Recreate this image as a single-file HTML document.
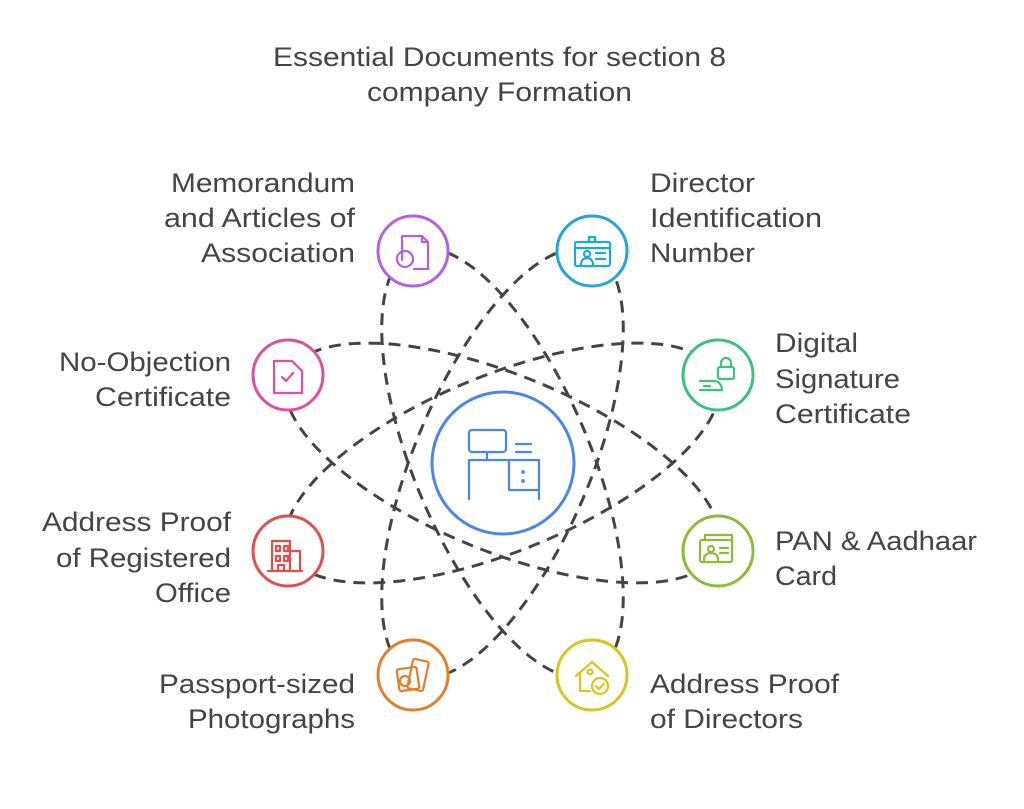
<!DOCTYPE html>
<html><head><meta charset="utf-8"><style>
html,body{margin:0;padding:0;background:#fff;}
svg{display:block;}
text{font-family:"Liberation Sans",sans-serif;font-size:27px;fill:#444;}
</style></head><body>
<svg width="1024" height="809" viewBox="0 0 1024 809" xmlns="http://www.w3.org/2000/svg">
<g fill="none" stroke="#444" stroke-width="3" stroke-dasharray="12 8">
<ellipse cx="502.5" cy="463" rx="230" ry="88" transform="rotate(67.1 502.5 463)"/>
<ellipse cx="502.5" cy="463" rx="230" ry="88" transform="rotate(-67.1 502.5 463)"/>
<ellipse cx="502.5" cy="463" rx="232" ry="88" transform="rotate(22.3 502.5 463)"/>
<ellipse cx="502.5" cy="463" rx="232" ry="88" transform="rotate(-22.3 502.5 463)"/>
</g>
<g stroke-width="3" fill="#fff">
<circle cx="503" cy="463" r="71" stroke="#4a86e8"/>
<circle cx="413" cy="251" r="35" stroke="#b65fe3"/>
<circle cx="592" cy="251" r="35" stroke="#1fa7da"/>
<circle cx="288" cy="375" r="35" stroke="#df4fa0"/>
<circle cx="718" cy="375" r="35" stroke="#3cc27c"/>
<circle cx="288" cy="551" r="35" stroke="#e24d4d"/>
<circle cx="718" cy="551" r="35" stroke="#8dbb38"/>
<circle cx="413" cy="675" r="35" stroke="#e27f2d"/>
<circle cx="592" cy="675" r="35" stroke="#d9c51c"/>
</g>
<!-- icons -->
<g fill="none" stroke-width="2.2" stroke-linejoin="round" stroke-linecap="round">
<g stroke="#4a86e8"><rect x="469" y="430" width="37" height="22" rx="3"/><path d="M487 452v8M469 499v-39h70v39M509 460v30h30M516 444h15M516 452h15"/><circle cx="523" cy="472" r="0.8"/><circle cx="523" cy="481" r="0.8"/></g>
<g stroke="#b65fe3"><path d="M402 260v-24h20l6 6v27h-14M422 236v6h6"/><circle cx="405" cy="259" r="8"/></g>
<g stroke="#1fa7da"><rect x="575" y="242" width="35" height="24" rx="2"/><path d="M575 248h35M589 242v-5h6v5M581 265c0-5 3-7 6-7s6 2 6 7M596 253h9M596 259h9"/><circle cx="587" cy="254" r="3"/></g>
<g stroke="#df4fa0"><path d="M274 361h18l10 10v22h-28z"/><path d="M282 377l4 4 7-8"/></g>
<g stroke="#3cc27c"><rect x="718" y="367" width="16" height="12" rx="2"/><path d="M721 367v-4a5 5 0 0 1 10 0v4M700 381h14c6 0 8 6 8 9h-22M704 386h6"/></g>
<g stroke="#e24d4d"><path d="M272 571v-30h18v30M290 551h10v20M268 571h34M284 571v-6h-6v6"/><path d="M276 546h4v5h-4zM284 546h4v5h-4zM276 556h4v5h-4zM284 556h4v5h-4z"/></g>
<g stroke="#8dbb38"><rect x="700" y="540" width="32" height="22" rx="2"/><path d="M705 540v-5h27v5"/><circle cx="711" cy="549" r="3"/><path d="M704 560c0-5 3-7 7-7s7 2 7 7M720 548h8M720 553h8"/></g>
<g stroke="#e27f2d"><rect x="398" y="668" width="20" height="22" rx="2" transform="rotate(-8 408 679)"/><rect x="410" y="660" width="16" height="30" rx="2" transform="rotate(12 418 675)"/><circle cx="405" cy="681" r="5"/></g>
<g stroke="#d9c51c"><path d="M576 676l16-14 16 14M580 673v18h10"/><circle cx="590" cy="672" r="2.5"/><circle cx="600" cy="686" r="8"/><path d="M596 686l3 3 5-5"/></g>
</g>
<!-- texts -->
<text x="499.5" y="66" text-anchor="middle" textLength="453" lengthAdjust="spacingAndGlyphs">Essential Documents for section 8</text>
<text x="499.5" y="101" text-anchor="middle" textLength="265" lengthAdjust="spacingAndGlyphs">company Formation</text>

<g text-anchor="end">
<text x="355" y="192" textLength="184" lengthAdjust="spacingAndGlyphs">Memorandum</text>
<text x="355" y="227" textLength="191" lengthAdjust="spacingAndGlyphs">and Articles of</text>
<text x="355" y="262" textLength="154" lengthAdjust="spacingAndGlyphs">Association</text>
<text x="231" y="371" textLength="172" lengthAdjust="spacingAndGlyphs">No-Objection</text>
<text x="231" y="406" textLength="136" lengthAdjust="spacingAndGlyphs">Certificate</text>
<text x="231" y="531" textLength="189" lengthAdjust="spacingAndGlyphs">Address Proof</text>
<text x="231" y="567" textLength="175" lengthAdjust="spacingAndGlyphs">of Registered</text>
<text x="231" y="602" textLength="76" lengthAdjust="spacingAndGlyphs">Office</text>
<text x="355" y="693" textLength="196" lengthAdjust="spacingAndGlyphs">Passport-sized</text>
<text x="355" y="728" textLength="167" lengthAdjust="spacingAndGlyphs">Photographs</text>
</g>
<g>
<text x="650" y="192" textLength="105" lengthAdjust="spacingAndGlyphs">Director</text>
<text x="650" y="227" textLength="172" lengthAdjust="spacingAndGlyphs">Identification</text>
<text x="650" y="262" textLength="105" lengthAdjust="spacingAndGlyphs">Number</text>
<text x="775" y="352" textLength="83" lengthAdjust="spacingAndGlyphs">Digital</text>
<text x="775" y="388" textLength="125" lengthAdjust="spacingAndGlyphs">Signature</text>
<text x="775" y="423" textLength="136" lengthAdjust="spacingAndGlyphs">Certificate</text>
<text x="775" y="550" textLength="202" lengthAdjust="spacingAndGlyphs">PAN &amp; Aadhaar</text>
<text x="775" y="585" textLength="62" lengthAdjust="spacingAndGlyphs">Card</text>
<text x="650" y="693" textLength="189" lengthAdjust="spacingAndGlyphs">Address Proof</text>
<text x="650" y="728" textLength="153" lengthAdjust="spacingAndGlyphs">of Directors</text>
</g>
</svg>
</body></html>
